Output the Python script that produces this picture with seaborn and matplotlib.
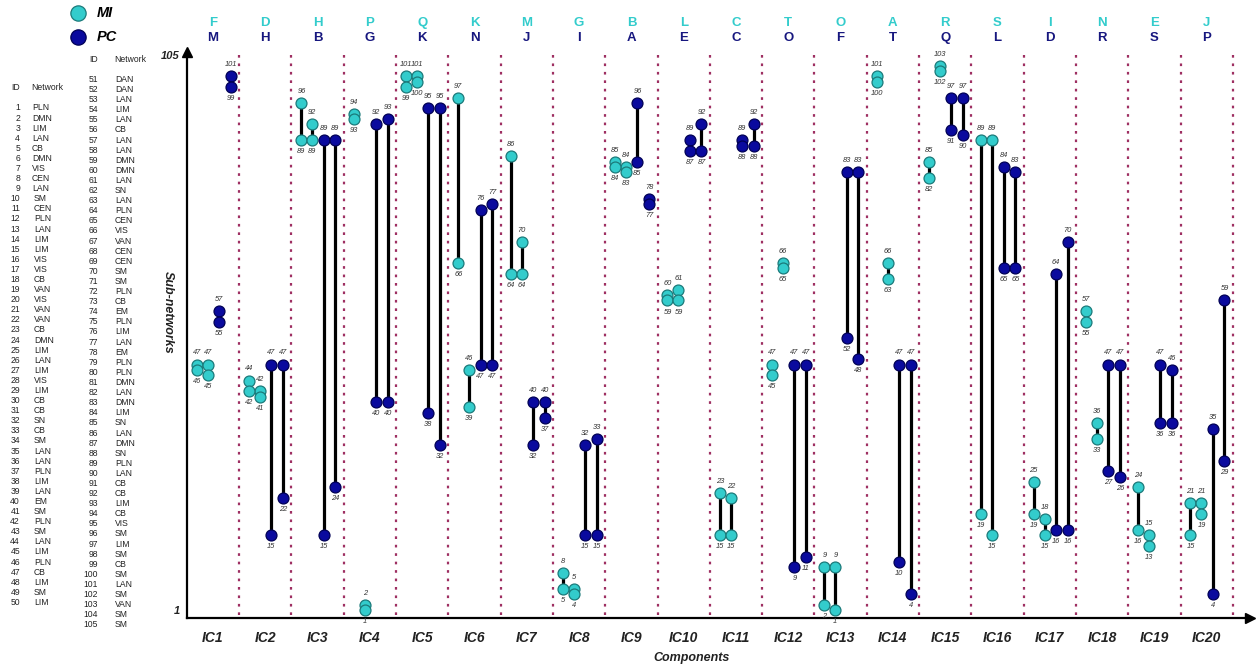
import matplotlib
matplotlib.use("Agg")
import matplotlib.pyplot as plt
from matplotlib.lines import Line2D
import pandas as pd
import seaborn as sns

# ---------------------------------------------------------------- data
components = [f"IC{i}" for i in range(1, 21)]
mi_letters = list("FDHPQKMGBLCTOARSINEJ")
pc_letters = list("MHBGKNJIAECOFTQLDRSP")

# (top, bottom) sub-network IDs of each pair, one entry per component
mi_pair_a = [(47, 46), (44, 42), (96, 89), (94, 93), (101, 99), (97, 66), (86, 64),
             (8, 5), (85, 84), (60, 59), (23, 15), (47, 45), (9, 2), (101, 100),
             (85, 82), (89, 19), (25, 19), (57, 55), (24, 16), (21, 15)]
mi_pair_b = [(47, 45), (42, 41), (92, 89), (2, 1), (101, 100), (46, 39), (70, 64),
             (5, 4), (84, 83), (61, 59), (22, 15), (66, 65), (9, 1), (66, 63),
             (103, 102), (89, 15), (18, 15), (36, 33), (15, 13), (21, 19)]
pc_pair_a = [(57, 55), (47, 15), (89, 15), (92, 40), (95, 38), (76, 47), (40, 32),
             (32, 15), (96, 85), (89, 87), (89, 88), (47, 9), (83, 52), (47, 10),
             (97, 91), (84, 65), (64, 16), (47, 27), (47, 36), (35, 4)]
pc_pair_b = [(101, 99), (47, 22), (89, 24), (93, 40), (95, 32), (77, 47), (40, 37),
             (33, 15), (78, 77), (92, 87), (92, 88), (47, 11), (83, 48), (47, 4),
             (97, 90), (83, 65), (70, 16), (47, 26), (46, 36), (59, 29)]

network_ids = list(range(1, 106))
network_names = [
    "PLN", "DMN", "LIM", "LAN", "CB", "DMN", "VIS", "CEN", "LAN", "SM",
    "CEN", "PLN", "LAN", "LIM", "LIM", "VIS", "VIS", "CB", "VAN", "VIS",
    "VAN", "VAN", "CB", "DMN", "LIM", "LAN", "LIM", "VIS", "LIM", "CB",
    "CB", "SN", "CB", "SM", "LAN", "LAN", "PLN", "LIM", "LAN", "EM",
    "SM", "PLN", "SM", "LAN", "LIM", "PLN", "CB", "LIM", "SM", "LIM",
    "DAN", "DAN", "LAN", "LIM", "LAN", "CB", "LAN", "LAN", "DMN", "DMN",
    "LAN", "SN", "LAN", "PLN", "CEN", "VIS", "VAN", "CEN", "CEN", "SM",
    "SM", "PLN", "CB", "EM", "PLN", "LIM", "LAN", "EM", "PLN", "PLN",
    "DMN", "LAN", "DMN", "LIM", "SN", "LAN", "DMN", "SN", "PLN", "LAN",
    "CB", "CB", "LIM", "CB", "VIS", "SM", "LIM", "SM", "CB", "SM",
    "LAN", "SM", "VAN", "SM", "SM",
]

# ---------------------------------------------------------------- style
sns.set_theme(style="white")
plt.rcParams["font.family"] = ["Liberation Sans", "DejaVu Sans"]

CYAN = "#33CCCC"
CYAN_EDGE = "#1B7A7A"
NAVY = "#0A0A9E"
NAVY_EDGE = "#000055"
LETTER_NAVY = "#17177F"
DOTS = "#9E2F62"
TEXT = "#222222"

W, H = 1258, 670
fig = plt.figure(figsize=(W / 100, H / 100), dpi=100)

# axes box in pixels
ax_l, ax_r, ax_t, ax_b = 187, 1248, 55, 618
ax = fig.add_axes([ax_l / W, (H - ax_b) / H, (ax_r - ax_l) / W, (ax_b - ax_t) / H])

# slot offsets (in component units) for the four pairs of a component
slot_offset = [-0.31, -0.10, 0.115, 0.34]

rows = []
for series, method, slot in [(mi_pair_a, "MI", 0), (mi_pair_b, "MI", 1),
                             (pc_pair_a, "PC", 2), (pc_pair_b, "PC", 3)]:
    for i, (top, bottom) in enumerate(series):
        rows.append({"component": components[i], "method": method,
                     "x": i + 1 + slot_offset[slot], "top": top, "bottom": bottom})
pairs = pd.DataFrame(rows)
points = pairs.melt(id_vars=["component", "method", "x"], value_vars=["top", "bottom"],
                    var_name="end", value_name="id")

# separators between components
ax.vlines([k + 0.5 for k in range(1, 21)], 0, 105, colors=DOTS,
          linestyles=(0, (1.2, 2.6)), linewidth=1.6, zorder=1)

# connecting segments
ax.vlines(pairs["x"], pairs["bottom"], pairs["top"], colors="black",
          linewidth=2.3, zorder=2)

sns.scatterplot(data=points[points["method"] == "MI"], x="x", y="id", color=CYAN,
                edgecolor=CYAN_EDGE, linewidth=0.9, s=62, zorder=3, ax=ax, legend=False)
sns.scatterplot(data=points[points["method"] == "PC"], x="x", y="id", color=NAVY,
                edgecolor=NAVY_EDGE, linewidth=0.9, s=62, zorder=3, ax=ax, legend=False)

# value labels
lkw = dict(textcoords="offset points", ha="center", va="center", fontsize=5.4,
           style="italic", color="#333333", zorder=4, annotation_clip=False)
for _, r in pairs.iterrows():
    ax.annotate(str(r["top"]), (r["x"], r["top"]), xytext=(0, 8.3), **lkw)
    ax.annotate(str(r["bottom"]), (r["x"], r["bottom"]), xytext=(0, -8.3), **lkw)

# network letters above each component
xtr = ax.get_xaxis_transform()
for i in range(20):
    ax.text(i + 1, (ax_b - 23) / (ax_b - ax_t), mi_letters[i], transform=xtr,
            ha="center", va="center", fontsize=9.5, fontweight="bold", color=CYAN)
    ax.text(i + 1, (ax_b - 38) / (ax_b - ax_t), pc_letters[i], transform=xtr,
            ha="center", va="center", fontsize=9.5, fontweight="bold", color=LETTER_NAVY)

# axes
x_left = 1 - (213 - ax_l) / 52.3
x_right = 1 + (ax_r - 213) / 52.3
ax.set_xlim(x_left, x_right)
ax.set_ylim(-0.5, 105)
ax.set_xticks(range(1, 21))
ax.set_xticklabels(components, fontsize=10, fontweight="bold", style="italic", color=TEXT)
ax.set_yticks([1, 105])
ax.set_yticklabels(["1", "105"], fontsize=8, fontweight="bold", style="italic", color=TEXT)
ax.tick_params(axis="x", length=0, pad=9)
ax.tick_params(axis="y", length=0, pad=5)
ax.set_xlabel("")
ax.set_ylabel("")
for side in ["top", "right"]:
    ax.spines[side].set_visible(False)
for side in ["left", "bottom"]:
    ax.spines[side].set_color("black")
    ax.spines[side].set_linewidth(1.6)
ax.plot(0, 1.005, marker="^", color="black", markersize=7, transform=ax.transAxes,
        clip_on=False)
ax.plot(1.002, 0, marker=">", color="black", markersize=7, transform=ax.transAxes,
        clip_on=False)

fig.text(692 / W, 1 - 658 / H, "Components", ha="center", va="center",
         fontsize=9, fontweight="bold", style="italic", color=TEXT)
fig.text(168 / W, 1 - 312 / H, "Sub-networks", ha="center", va="center",
         rotation=-90, fontsize=9, fontweight="bold", style="italic", color=TEXT)

# legend
for ypix, label, fc, ec in [(13, "MI", CYAN, CYAN_EDGE), (37, "PC", NAVY, NAVY_EDGE)]:
    fig.add_artist(Line2D([78 / W], [1 - ypix / H], marker="o", markersize=11,
                          markerfacecolor=fc, markeredgecolor=ec, markeredgewidth=0.9,
                          linestyle="none", transform=fig.transFigure))
    fig.text(97 / W, 1 - ypix / H, label, ha="left", va="center", fontsize=10.5,
             fontweight="bold", style="italic", color="black")

# network lookup table
tkw = dict(fontsize=6.2, color=TEXT, va="center")
fig.text(20 / W, 1 - 88 / H, "ID", ha="right", **tkw)
fig.text(31 / W, 1 - 88 / H, "Network", ha="left", **tkw)
fig.text(98 / W, 1 - 59 / H, "ID", ha="right", **tkw)
fig.text(114 / W, 1 - 59 / H, "Network", ha="left", **tkw)
for nid, name in zip(network_ids, network_names):
    if nid <= 50:
        y = 108 + (nid - 1) * 10.09
        fig.text(20 / W, 1 - y / H, str(nid), ha="right", **tkw)
        fig.text((32 if nid < 10 else 34) / W, 1 - y / H, name, ha="left", **tkw)
    else:
        y = 79.5 + (nid - 51) * 10.1
        fig.text(98 / W, 1 - y / H, str(nid), ha="right", **tkw)
        fig.text(115 / W, 1 - y / H, name, ha="left", **tkw)

fig.savefig("out.png", dpi=100, facecolor="white")
